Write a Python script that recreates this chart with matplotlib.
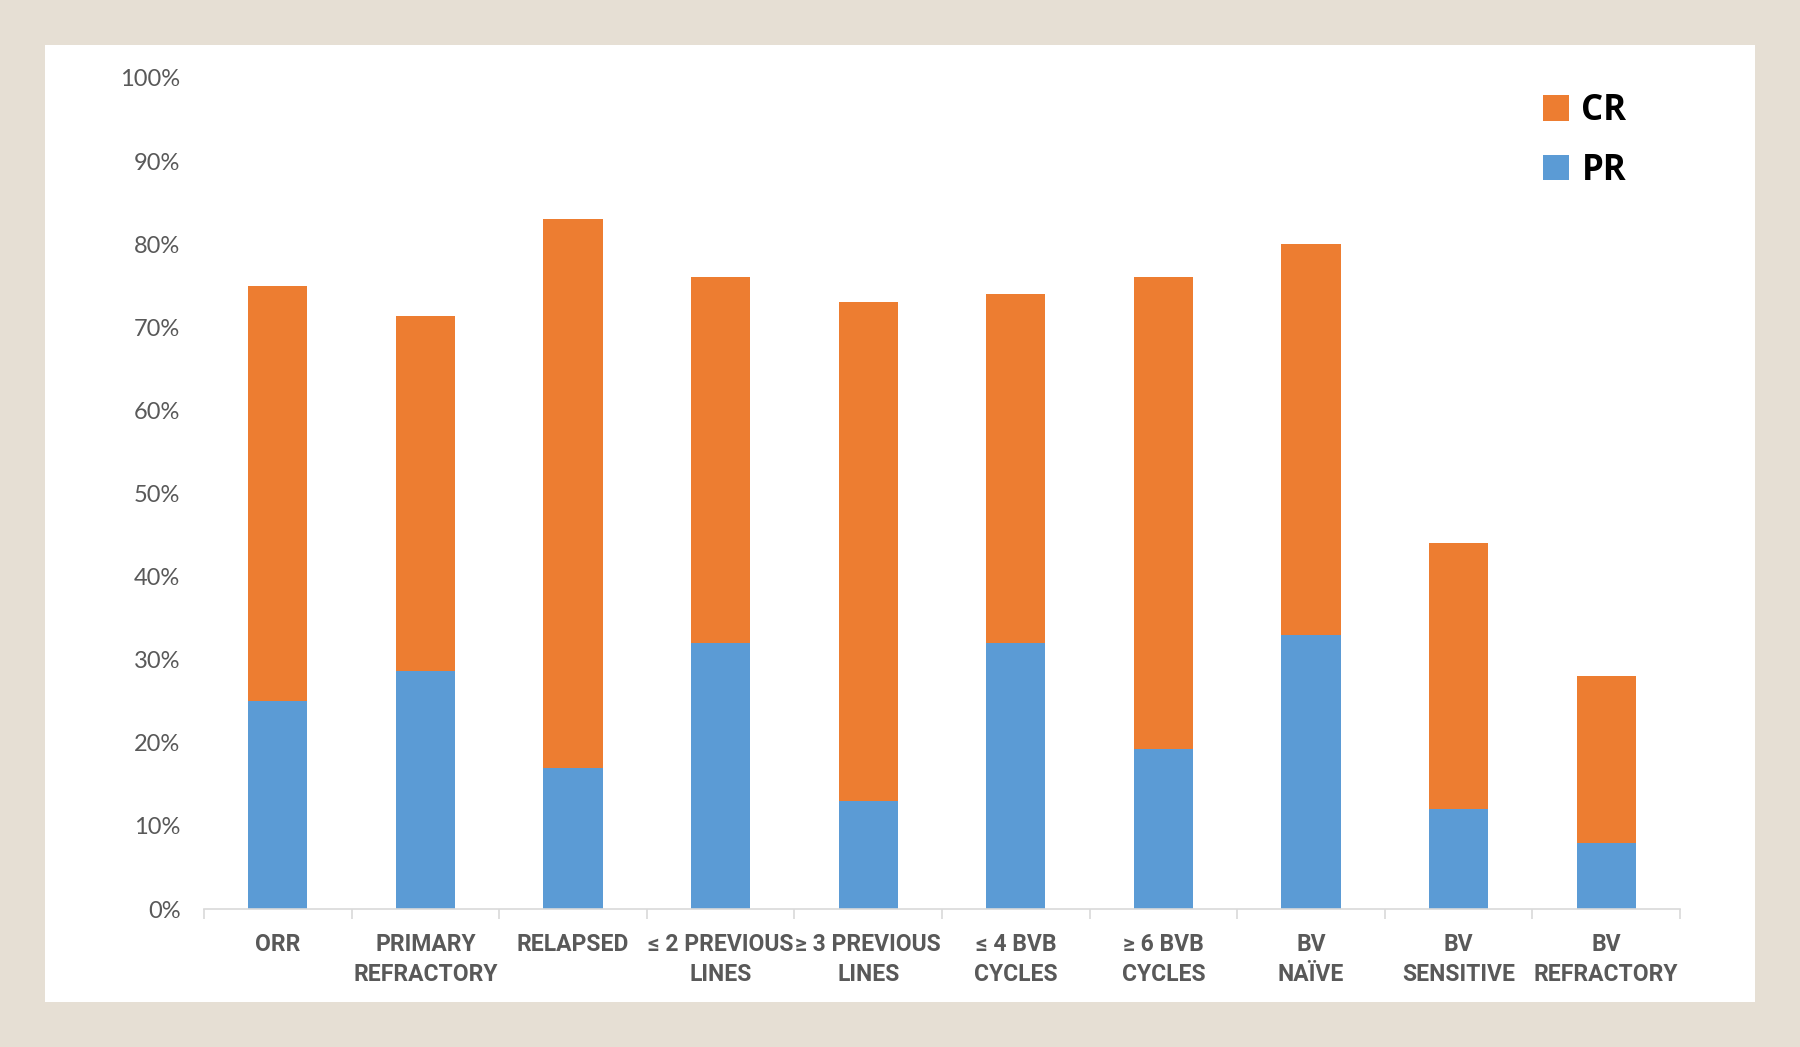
import numpy as np
import matplotlib.pyplot as plt
from matplotlib.patches import Rectangle

categories = ['ORR', 'PRIMARY\nREFRACTORY', 'RELAPSED', '≤ 2 PREVIOUS\nLINES', '≥ 3 PREVIOUS\nLINES',
              '≤ 4 BVB\nCYCLES', '≥ 6 BVB\nCYCLES', 'BV\nNAÏVE', 'BV\nSENSITIVE', 'BV\nREFRACTORY']
pr = [25.0, 28.6, 17.0, 32.0, 13.0, 32.0, 19.2, 33.0, 12.0, 8.0]
cr = [50.0, 42.8, 66.0, 44.0, 60.0, 42.0, 56.8, 47.0, 32.0, 20.0]
yticks = [0, 10, 20, 30, 40, 50, 60, 70, 80, 90, 100]

c_pr = '#5B9BD5'
c_cr = '#ED7D31'
grey = '#595959'

fig = plt.figure(figsize=(18, 10.47), dpi=100)
fig.patch.set_facecolor('#E6DFD4')
fig.add_artist(Rectangle((45/1800, 1-1002/1047), 1710/1800, 957/1047, transform=fig.transFigure,
                         facecolor='white', edgecolor='none', zorder=0))

ax = fig.add_axes([204/1800, 1-909/1047, 1476/1800, 831/1047])
ax.set_facecolor('none')
x = np.arange(len(categories))
b_pr = ax.bar(x, pr, width=0.4, color=c_pr, label='PR')
b_cr = ax.bar(x, cr, width=0.4, bottom=pr, color=c_cr, label='CR')

ax.set_xlim(-0.5, len(categories)-0.5)
ax.set_ylim(0, 100)
ax.set_yticks(yticks)
ax.set_yticklabels([f'{v}%' for v in yticks], fontsize=17, color=grey, family=['Lato', 'DejaVu Sans'])
ax.tick_params(axis='y', length=0, pad=17)

ax.set_xticks(x)
ax.set_xticklabels(categories, fontsize=16.5, fontweight='bold', color=grey,
                   family=['Liberation Sans Narrow', 'Roboto', 'DejaVu Sans'], linespacing=1.42)
ax.set_xticks(np.arange(-0.5, len(categories)), minor=True)
ax.tick_params(axis='x', which='major', length=0, pad=17)
ax.tick_params(axis='x', which='minor', length=7, color='#D9D9D9', width=1.2)

for s in ['top', 'right', 'left']:
    ax.spines[s].set_visible(False)
ax.spines['bottom'].set_color('#D9D9D9')
ax.spines['bottom'].set_linewidth(1.2)

leg = ax.legend(handles=[b_cr, b_pr], loc='upper left', bbox_to_anchor=(1512/1800, 1-62/1047),
                bbox_transform=fig.transFigure, frameon=False, handlelength=0.75, handleheight=0.75,
                handletextpad=0.35, labelspacing=0.68, prop={'size': 25, 'weight': 'bold', 'family': ['Open Sans', 'DejaVu Sans']})

fig.savefig('out.png', dpi=100, facecolor=fig.get_facecolor())
